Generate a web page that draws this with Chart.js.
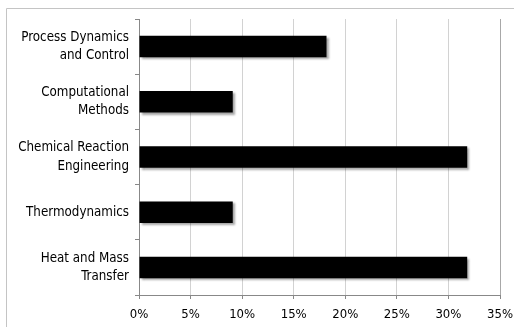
<!DOCTYPE html>
<html>
<head>
<meta charset="utf-8">
<script src="https://cdn.jsdelivr.net/npm/chart.js@4/dist/chart.umd.min.js"></script>
<style>
  html, body { margin: 0; padding: 0; background: #fff; }
  #wrap { position: relative; width: 514px; height: 327px; }
</style>
</head>
<body>
<div id="wrap"><canvas id="c" width="514" height="327"></canvas></div>
<script>
// Share of course topics
const categories = [
  ["Process Dynamics", "and Control"],
  ["Computational", "Methods"],
  ["Chemical Reaction", "Engineering"],
  ["Thermodynamics"],
  ["Heat and Mass", "Transfer"]
];
const shares = [18.18, 9.09, 31.82, 9.09, 31.82];
const xTicks = [0, 5, 10, 15, 20, 25, 30, 35];

const labelFont = 'DejaVu Sans Condensed';

// Light frame along the top and left edges
const framePlugin = {
  id: 'frame',
  beforeDraw(chart) {
    const ctx = chart.ctx;
    ctx.save();
    ctx.strokeStyle = '#c4c4c4';
    ctx.lineWidth = 1;
    ctx.beginPath();
    ctx.moveTo(6.5, chart.height);
    ctx.lineTo(6.5, 8.5);
    ctx.lineTo(chart.width, 8.5);
    ctx.stroke();
    ctx.restore();
  }
};

// Soft drop shadow under the bars
const shadowPlugin = {
  id: 'barShadow',
  beforeDatasetDraw(chart) {
    const ctx = chart.ctx;
    ctx.save();
    ctx.shadowColor = 'rgba(0,0,0,0.35)';
    ctx.shadowOffsetX = 2;
    ctx.shadowOffsetY = 2;
    ctx.shadowBlur = 2;
  },
  afterDatasetDraw(chart) {
    chart.ctx.restore();
  }
};

new Chart(document.getElementById('c'), {
  type: 'bar',
  data: {
    labels: categories,
    datasets: [{
      data: shares,
      backgroundColor: '#000000',
      borderWidth: 0,
      categoryPercentage: 1,
      barPercentage: 0.39
    }]
  },
  options: {
    indexAxis: 'y',
    responsive: false,
    animation: false,
    events: [],
    layout: { padding: { left: 0, top: 19, right: 14, bottom: 0 } },
    plugins: {
      legend: { display: false },
      tooltip: { enabled: false }
    },
    scales: {
      x: {
        min: 0,
        max: 35,
        afterBuildTicks(scale) {
          scale.ticks = xTicks.map(v => ({ value: v }));
        },
        afterFit(scale) {
          scale.height = 32;
          scale.paddingLeft = 0;
          scale.paddingRight = 0;
        },
        ticks: {
          callback: v => v + '%',
          color: '#000',
          font: { family: labelFont, size: 13 },
          padding: 8,
          maxRotation: 0
        },
        grid: {
          color: ctx => (ctx.tick && ctx.tick.value === 35) ? '#a8a8a8' : '#d2d2d2',
          lineWidth: 1,
          tickLength: 4,
          tickColor: '#888'
        },
        border: { display: true, color: '#888' }
      },
      y: {
        afterFit(scale) {
          scale.width = 139;
          scale.paddingTop = 0;
          scale.paddingBottom = 0;
        },
        ticks: {
          color: '#000',
          font: { family: labelFont, size: 13.25, lineHeight: 1.38 },
          padding: 6
        },
        grid: {
          offset: true,
          drawOnChartArea: false,
          drawTicks: true,
          tickLength: 4,
          tickColor: '#888'
        },
        border: { display: true, color: '#888' }
      }
    }
  },
  plugins: [framePlugin, shadowPlugin]
});
</script>
</body>
</html>
